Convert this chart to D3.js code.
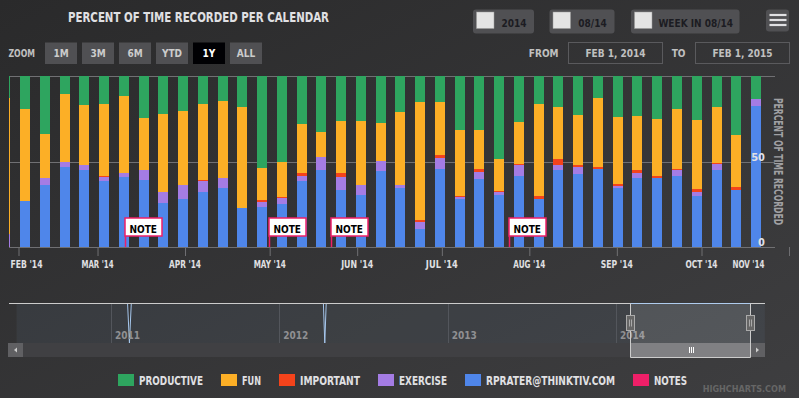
<!DOCTYPE html>
<html>
<head>
<meta charset="utf-8">
<script src="https://cdn.jsdelivr.net/npm/d3@7"></script>
<style>
  body { margin: 0; background: #2a2a2b; overflow: hidden; }
  text { font-family: "Liberation Sans Narrow", "DejaVu Sans Condensed", sans-serif; font-weight: bold; }
  .up { text-transform: uppercase; }
</style>
</head>
<body>
<svg id="chart" width="799" height="398"></svg>
<script>

// ---- data ----
const weeks = [
  "2014-01-27", "2014-02-03", "2014-02-10", "2014-02-17", "2014-02-24",
  "2014-03-03", "2014-03-10", "2014-03-17", "2014-03-24", "2014-03-31",
  "2014-04-07", "2014-04-14", "2014-04-21", "2014-04-28", "2014-05-05",
  "2014-05-12", "2014-05-19", "2014-05-26", "2014-06-02", "2014-06-09",
  "2014-06-16", "2014-06-23", "2014-06-30", "2014-07-07", "2014-07-14",
  "2014-07-21", "2014-07-28", "2014-08-04", "2014-08-11", "2014-08-18",
  "2014-08-25", "2014-09-01", "2014-09-08", "2014-09-15", "2014-09-22",
  "2014-09-29", "2014-10-06", "2014-10-13", "2014-10-20"
];

// percent of recorded time per week
const productive = [13.1, 19.3, 33.9, 10.5, 17.0, 16.4, 11.7, 24.6, 22.2, 20.5, 16.6, 14.6, 18.1, 53.8, 50.3, 28.1, 32.7, 26.3, 26.3, 27.5, 21.1, 15.2, 15.2, 31.6, 31.6, 48.5, 26.9, 16.6, 18.1, 22.8, 12.7, 24.0, 23.4, 25.1, 19.3, 25.7, 18.1, 34.5, 13.5];
const fun        = [79.5, 53.8, 25.7, 39.8, 35.1, 42.1, 45.0, 30.4, 45.6, 43.3, 43.9, 45.0, 59.1, 18.7, 20.5, 28.7, 14.6, 30.4, 37.4, 22.2, 42.7, 69.0, 31.0, 38.6, 22.8, 18.7, 24.6, 53.2, 30.4, 29.2, 40.4, 39.2, 31.6, 33.3, 35.1, 40.4, 32.7, 29.8, 0];
const important  = [0, 0, 0, 0, 0, 0.6, 0, 0, 0, 0, 0.6, 0, 0, 1.2, 0.6, 1.8, 0, 2.3, 0, 0, 0, 1.2, 1.8, 0.6, 1.8, 0.6, 0.6, 1.8, 3.5, 1.2, 1.2, 1.2, 1.8, 1.2, 0.6, 1.8, 0.6, 1.8, 0];
const exercise   = [7.4, 0, 4.1, 2.9, 2.9, 2.3, 2.3, 5.8, 6.4, 8.2, 6.4, 5.8, 0, 2.9, 3.5, 2.9, 7.6, 7.6, 5.8, 5.8, 1.8, 4.1, 6.4, 1.2, 4.1, 1.8, 6.4, 0, 2.9, 4.1, 0.4, 1.2, 2.9, 0, 3.5, 2.3, 3.5, 0, 4.1];
const rprater    = [0, 26.9, 36.3, 46.8, 45.0, 38.6, 40.9, 39.2, 25.7, 28.1, 32.2, 34.5, 22.8, 23.4, 25.1, 38.6, 45.0, 33.3, 30.4, 44.4, 34.5, 10.5, 45.6, 28.1, 39.8, 30.4, 41.5, 28.1, 45.0, 42.7, 45.4, 34.5, 40.4, 40.4, 41.5, 29.8, 45.0, 33.3, 82.5];

const seriesNames = ["Productive", "Fun", "Important", "Exercise", "rprater@thinktiv.com", "Notes"];
const noteDates = ["2014-03-11", "2014-05-01", "2014-05-23", "2014-07-25"];

const xTicks = ["2014-02-01", "2014-03-01", "2014-04-01", "2014-05-01", "2014-06-01",
                "2014-07-01", "2014-08-01", "2014-09-01", "2014-10-01", "2014-11-01"];
const yTicks = [0, 0.5, 1];

const zoomButtons = ["1m", "3m", "6m", "YTD", "1y", "All"];
const selectedButton = "1y";
const toggles = ["2014", "08/14", "Week in 08/14"];
const dateInputs = ["Feb 1, 2014", "Feb 1, 2015"];

// navigator: whole history, with two empty weeks
const navYears = ["2011-01-01", "2012-01-01", "2013-01-01", "2014-01-01"];
const navDates  = ["2010-06-10", "2011-02-06", "2011-02-10", "2011-02-14", "2012-04-06", "2012-04-09", "2012-04-12", "2014-11-20"];
const navValues = [100, 100, 0, 100, 100, 0, 100, 100];
const navRange = ["2014-01-31", "2014-10-19"];

const colors = ["#2ea55f", "#fcaf26", "#f4431b", "#a47ce4", "#4f86ea", "#ee1f68"];
const textColor = "#E0E0E3";

// ---- setup ----
const width = 799, height = 398;
const plot = { left: 9, right: 775, top: 76, bottom: 247 };
const parse = d3.utcParse("%Y-%m-%d");

const svg = d3.select("#chart");
const defs = svg.append("defs");

const bg = defs.append("linearGradient")
    .attr("id", "bg")
    .attr("x1", 0).attr("y1", 0).attr("x2", 1).attr("y2", 1);
bg.append("stop").attr("offset", 0).attr("stop-color", "#2a2a2b");
bg.append("stop").attr("offset", 1).attr("stop-color", "#3e3e40");

defs.append("clipPath")
    .attr("id", "plotClip")
  .append("rect")
    .attr("x", plot.left)
    .attr("y", plot.top)
    .attr("width", plot.right - plot.left)
    .attr("height", plot.bottom - plot.top);

svg.append("rect")
    .attr("width", width)
    .attr("height", height)
    .attr("fill", "url(#bg)");

const fit = (sel, w) => sel.attr("textLength", w).attr("lengthAdjust", "spacingAndGlyphs");

// ---- title ----
svg.append("text")
    .attr("class", "up")
    .attr("x", 198.5)
    .attr("y", 21.7)
    .attr("text-anchor", "middle")
    .attr("font-size", 14)
    .attr("fill", textColor)
    .text("Percent of time recorded per calendar")
    .call(fit, 261);

// ---- range selector ----
svg.append("text")
    .attr("class", "up")
    .attr("x", 8.5)
    .attr("y", 56.7)
    .attr("font-size", 10)
    .attr("fill", "silver")
    .text("Zoom")
    .call(fit, 26.5);

const btn = svg.selectAll("g.zoom-btn")
  .data(zoomButtons)
  .join("g")
    .attr("class", "zoom-btn")
    .attr("transform", (d, i) => `translate(${45 + i * 37}, 42.5)`);

btn.append("rect")
    .attr("width", 32)
    .attr("height", 21.5)
    .attr("fill", d => d === selectedButton ? "#000003" : "#505053");

btn.append("text")
    .attr("class", "up")
    .attr("x", 16)
    .attr("y", 14.3)
    .attr("text-anchor", "middle")
    .attr("font-size", 10)
    .attr("fill", d => d === selectedButton ? "#fff" : "#CCC")
    .text(d => d);

// date inputs
const inputX = [568.5, 695.5];
svg.selectAll("text.input-label")
  .data(["From", "To"])
  .join("text")
    .attr("class", "input-label up")
    .attr("x", (d, i) => inputX[i] - 10)
    .attr("y", 56.7)
    .attr("text-anchor", "end")
    .attr("font-size", 10)
    .attr("fill", "silver")
    .text(d => d);

const inputs = svg.selectAll("g.input")
  .data(dateInputs)
  .join("g")
    .attr("class", "input")
    .attr("transform", (d, i) => `translate(${inputX[i]}, 42.5)`);

inputs.append("rect")
    .attr("width", 94)
    .attr("height", 21)
    .attr("fill", "none")
    .attr("stroke", "#5a5a5d");

inputs.append("text")
    .attr("class", "up")
    .attr("x", 47)
    .attr("y", 14.2)
    .attr("text-anchor", "middle")
    .attr("font-size", 10)
    .attr("fill", "silver")
    .text(d => d);

// toggle buttons in the header
const toggleX = [473, 549.5, 631];
const toggleW = [61, 65, 108.5];
const toggle = svg.selectAll("g.toggle")
  .data(toggles)
  .join("g")
    .attr("class", "toggle")
    .attr("transform", (d, i) => `translate(${toggleX[i]}, 9.5)`);

toggle.append("rect")
    .attr("width", (d, i) => toggleW[i])
    .attr("height", 24)
    .attr("rx", 3)
    .attr("fill", "#505053");

toggle.append("rect")
    .attr("x", 3.5)
    .attr("y", 2.5)
    .attr("width", 17.5)
    .attr("height", 16.5)
    .attr("fill", "#e4e4e4")
    .attr("stroke", "#9a9a9a")
    .attr("stroke-width", 0.5);

toggle.append("text")
    .attr("class", "up")
    .attr("x", (d, i) => 21 + (toggleW[i] - 21) / 2)
    .attr("y", 17)
    .attr("text-anchor", "middle")
    .attr("font-size", 10)
    .attr("font-weight", "normal")
    .attr("fill", "#1c1c22")
    .text(d => d);

// menu button
const menu = svg.append("g").attr("transform", "translate(766, 9.5)");
menu.append("rect")
    .attr("width", 23)
    .attr("height", 22)
    .attr("rx", 3)
    .attr("fill", "#505053");
menu.selectAll("line")
  .data([5.5, 10.5, 15.5])
  .join("line")
    .attr("x1", 3.5).attr("x2", 20.5)
    .attr("y1", d => d).attr("y2", d => d)
    .attr("stroke", textColor)
    .attr("stroke-width", 2.2);

// ---- main chart ----
const xScale = d3.scaleUtc()
    .domain([parse(xTicks[0]), parse(xTicks[8])])
    .range([18, 701]);

const yScale = d3.scaleLinear()
    .domain([0, 1])
    .range([plot.bottom, plot.top]);

// gridlines
svg.append("g")
  .selectAll("line")
  .data(yTicks)
  .join("line")
    .attr("x1", plot.left)
    .attr("x2", plot.right)
    .attr("y1", d => Math.round(yScale(d)) + 0.5)
    .attr("y2", d => Math.round(yScale(d)) + 0.5)
    .attr("stroke", "#707073");

const table = weeks.map((w, i) => ({
  date: d3.utcHour.offset(parse(w), 12),   // column centred on the week
  productive: productive[i],
  fun: fun[i],
  important: important[i],
  exercise: exercise[i],
  rprater: rprater[i]
}));

// bottom first: the first legend item sits on top of the stack
const keys = ["rprater", "exercise", "important", "fun", "productive"];
const keyColor = { productive: colors[0], fun: colors[1], important: colors[2], exercise: colors[3], rprater: colors[4] };

const stacked = d3.stack()
    .keys(keys)
    .offset(d3.stackOffsetExpand)(table);

const barW = Math.round((xScale(parse(weeks[2])) - xScale(parse(weeks[1]))) * 0.5);

const bars = svg.append("g").attr("clip-path", "url(#plotClip)");

bars.selectAll("g")
  .data(stacked)
  .join("g")
    .attr("fill", d => keyColor[d.key])
  .selectAll("rect")
  .data(d => d)
  .join("rect")
    .attr("x", d => Math.round(xScale(d.data.date) - barW / 2))
    .attr("width", barW)
    .attr("y", d => Math.round(yScale(d[1])))
    .attr("height", d => Math.round(yScale(d[0])) - Math.round(yScale(d[1])));

// x axis
const xAxis = svg.append("g")
    .attr("transform", `translate(0, ${plot.bottom})`)
    .call(d3.axisBottom(xScale)
      .tickValues(xTicks.map(parse))
      .tickFormat(d3.utcFormat("%b '%y"))
      .tickSize(9)
      .tickPadding(4));

xAxis.select(".domain").remove();
xAxis.selectAll(".tick line")
    .attr("stroke", "#707073")
    .attr("transform", "translate(0.5, 0)");
xAxis.selectAll(".tick text")
    .attr("class", "up")
    .attr("fill", textColor)
    .attr("font-size", 11)
    .attr("font-family", null)
    .call(fit, 32);

// keep end labels inside the plot, like the original
xAxis.selectAll(".tick").each(function () {
  const tick = d3.select(this);
  const label = tick.select("text");
  const w = 32;
  const cx = xScale(tick.datum());
  if (cx - w / 2 < plot.left + 1) label.attr("x", plot.left + 1 + w / 2 - cx);
  if (cx + w / 2 > 764) label.attr("x", 764 - w / 2 - cx);
});

// y labels, inside the plot on the right
const yAxis = svg.append("g")
    .attr("transform", "translate(766, 0)")
    .call(d3.axisLeft(yScale)
      .tickValues([0, 0.5])
      .tickFormat(d => d * 100)
      .tickSize(0)
      .tickPadding(1));

yAxis.select(".domain").remove();
yAxis.selectAll("text")
    .attr("dy", -1.5)
    .attr("fill", textColor)
    .attr("font-size", 11)
    .attr("font-family", null);

svg.append("text")
    .attr("class", "up")
    .attr("transform", `translate(774, ${(plot.top + plot.bottom) / 2}) rotate(90)`)
    .attr("text-anchor", "middle")
    .attr("font-size", 12)
    .attr("fill", "#A0A0A3")
    .text("Percent of time recorded")
    .call(fit, 127);

// note flags
const flags = svg.append("g")
  .selectAll("g")
  .data(noteDates)
  .join("g")
    .attr("transform", d => `translate(${Math.round(xScale(parse(d))) + 0.5}, 0)`);

flags.append("line")
    .attr("x1", 0).attr("x2", 0)
    .attr("y1", 236).attr("y2", plot.bottom)
    .attr("stroke", colors[5])
    .attr("stroke-width", 1.5);

flags.append("rect")
    .attr("x", -0.5)
    .attr("y", 218)
    .attr("width", 37)
    .attr("height", 18)
    .attr("fill", "#fff")
    .attr("stroke", colors[5])
    .attr("stroke-width", 1.5);

flags.append("text")
    .attr("x", 4)
    .attr("y", 233)
    .attr("font-family", "DejaVu Sans Mono, monospace")
    .attr("font-weight", "normal")
    .attr("font-size", 10)
    .attr("fill", "#000")
    .text("NOTE");

// ---- navigator ----
const nav = { left: 9, right: 765, top: 303, bottom: 343 };

const navX = d3.scaleUtc()
    .domain([parse(navYears[0]), parse(navYears[3])])
    .range([111, 616]);

const navY = d3.scaleLinear()
    .domain([0, 100])
    .range([nav.bottom, nav.top]);

const navData = navDates.map((d, i) => ({ date: parse(d), value: navValues[i] }));

svg.append("g")
  .selectAll("line")
  .data(navYears)
  .join("line")
    .attr("x1", d => Math.round(navX(parse(d))) + 0.5)
    .attr("x2", d => Math.round(navX(parse(d))) + 0.5)
    .attr("y1", nav.top)
    .attr("y2", nav.bottom)
    .attr("stroke", "#505053");

svg.append("path")
    .datum(navData)
    .attr("fill", "#7798BF")
    .attr("fill-opacity", 0.09)
    .attr("d", d3.area().x(d => navX(d.date)).y0(nav.bottom).y1(d => navY(d.value)));

svg.append("path")
    .datum(navData)
    .attr("fill", "none")
    .attr("stroke", "#A6C7ED")
    .attr("d", d3.line().x(d => navX(d.date)).y(d => navY(d.value) + 0.5));

svg.append("g")
  .selectAll("text")
  .data(navYears)
  .join("text")
    .attr("x", d => navX(parse(d)) + 4)
    .attr("y", 339)
    .attr("font-size", 10)
    .attr("font-weight", "normal")
    .attr("fill", "#909093")
    .text(d => d3.utcFormat("%Y")(parse(d)));

const selA = Math.round(navX(parse(navRange[0]))) + 0.5;
const selB = Math.round(navX(parse(navRange[1]))) + 0.5;

svg.append("rect")
    .attr("x", selA)
    .attr("y", nav.top)
    .attr("width", selB - selA)
    .attr("height", nav.bottom - nav.top)
    .attr("fill", "rgba(255,255,255,0.1)");

// scrollbar
const sb = { top: 343, h: 14 };
svg.append("rect")
    .attr("x", 8).attr("y", sb.top)
    .attr("width", nav.right - 8).attr("height", sb.h)
    .attr("fill", "#404043");

svg.append("rect")
    .attr("x", selA).attr("y", sb.top)
    .attr("width", selB - selA).attr("height", sb.h)
    .attr("fill", "#808083");

svg.selectAll("line.rifle")
  .data([-2, 0, 2])
  .join("line")
    .attr("class", "rifle")
    .attr("x1", d => Math.round((selA + selB) / 2) + d + 0.5)
    .attr("x2", d => Math.round((selA + selB) / 2) + d + 0.5)
    .attr("y1", sb.top + 4).attr("y2", sb.top + 10)
    .attr("stroke", "#fff");

const sbButtons = [{ x: 8, dir: -1 }, { x: nav.right - 15, dir: 1 }];
const sbBtn = svg.selectAll("g.sb-btn")
  .data(sbButtons)
  .join("g")
    .attr("class", "sb-btn")
    .attr("transform", d => `translate(${d.x}, ${sb.top})`);

sbBtn.append("rect")
    .attr("width", 15)
    .attr("height", sb.h)
    .attr("fill", "#606063");

sbBtn.append("path")
    .attr("d", d => d.dir < 0 ? "M9,4.5 L6,7 L9,9.5 Z" : "M6,4.5 L9,7 L6,9.5 Z")
    .attr("fill", "#CCC");

// outline around the selection
svg.append("path")
    .attr("fill", "none")
    .attr("stroke", "#CCC")
    .attr("d", `M${nav.left},${nav.top + 0.5} L${selA},${nav.top + 0.5} L${selA},${sb.top + sb.h + 0.5}` +
               ` L${selB},${sb.top + sb.h + 0.5} L${selB},${nav.top + 0.5} L${nav.right},${nav.top + 0.5}`);

// handles
const handles = svg.selectAll("g.handle")
  .data([selA, selB])
  .join("g")
    .attr("class", "handle")
    .attr("transform", d => `translate(${d - 4}, 315.5)`);

handles.append("rect")
    .attr("width", 8)
    .attr("height", 15)
    .attr("fill", "#666")
    .attr("stroke", "#AAA");

handles.selectAll("line")
  .data([3, 5])
  .join("line")
    .attr("x1", d => d).attr("x2", d => d)
    .attr("y1", 4).attr("y2", 11)
    .attr("stroke", "#AAA");

// ---- legend ----
const legendW = [64, 19, 60, 48, 129, 33];
let lx = 118;
const legendItems = seriesNames.map((name, i) => {
  const item = { name, color: colors[i], x: lx, w: legendW[i] };
  lx += 21 + legendW[i] + 18;
  return item;
});

const legend = svg.append("g")
  .selectAll("g")
  .data(legendItems)
  .join("g")
    .attr("transform", d => `translate(${d.x}, 374)`);

legend.append("rect")
    .attr("width", 16)
    .attr("height", 12)
    .attr("fill", d => d.color);

legend.append("text")
    .attr("class", "up")
    .attr("x", 21)
    .attr("y", 11.3)
    .attr("font-size", 12)
    .attr("fill", textColor)
    .text(d => d.name)
    .each(function (d) { d3.select(this).call(fit, d.w); });

// credits
svg.append("text")
    .attr("class", "up")
    .attr("x", 786)
    .attr("y", 392)
    .attr("text-anchor", "end")
    .attr("font-size", 9)
    .attr("font-weight", "normal")
    .attr("fill", "#666")
    .text("Highcharts.com");

</script>
</body>
</html>
